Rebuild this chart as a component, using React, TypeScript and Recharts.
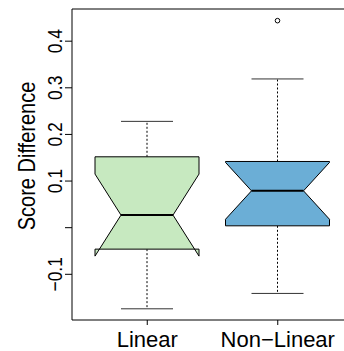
import { ComposedChart, Bar, XAxis, YAxis, ReferenceLine } from 'recharts';

const categories = ['Linear', 'Non\u2212Linear'];
const lowerWhisker = [-0.174, -0.141];
const lowerHinge = [-0.046, 0.004];
const medians = [0.027, 0.079];
const upperHinge = [0.152, 0.142];
const upperWhisker = [0.228, 0.319];
const notchLow = [-0.061, 0.018];
const notchHigh = [0.115, 0.14];
const outliers = [[], [0.444]];
const fills = ['#C7E9C0', '#6BAED6'];

const yTicks = [-0.1, 0, 0.1, 0.2, 0.3, 0.4];
const yDomain = [-0.198, 0.469];

const data = categories.map((name, i) => {
  const lo = Math.min(lowerWhisker[i], ...outliers[i]);
  const hi = Math.max(upperWhisker[i], ...outliers[i]);
  return {
    name,
    range: [lo, hi],
    lo,
    hi,
    whiskLo: lowerWhisker[i],
    q1: lowerHinge[i],
    med: medians[i],
    q3: upperHinge[i],
    whiskHi: upperWhisker[i],
    nl: notchLow[i],
    nu: notchHigh[i],
    out: outliers[i],
    fill: fills[i],
  };
});

const font = '"Liberation Sans", Arial, Helvetica, sans-serif';

// custom box: the bar spans [lo, hi] so its pixel extent gives the y scale
function NotchBox(props: any) {
  const { x, y, width, height, payload } = props;
  const top = Math.min(y, y + height);
  const bottom = Math.max(y, y + height);
  const py = (v: number) => top + ((payload.hi - v) / (payload.hi - payload.lo)) * (bottom - top);
  const cx = x + width / 2;
  const xl = x;
  const xr = x + width;
  const nh = width / 4;
  const pts = [
    [xl, py(payload.q1)],
    [xl, py(payload.nl)],
    [cx - nh, py(payload.med)],
    [xl, py(payload.nu)],
    [xl, py(payload.q3)],
    [xr, py(payload.q3)],
    [xr, py(payload.nu)],
    [cx + nh, py(payload.med)],
    [xr, py(payload.nl)],
    [xr, py(payload.q1)],
  ]
    .map((p) => p.join(','))
    .join(' ');
  return (
    <g>
      <line x1={cx} x2={cx} y1={py(payload.q3)} y2={py(payload.whiskHi)} stroke="#000" strokeDasharray="2 2" />
      <line x1={cx} x2={cx} y1={py(payload.q1)} y2={py(payload.whiskLo)} stroke="#000" strokeDasharray="2 2" />
      <line x1={cx - nh} x2={cx + nh} y1={py(payload.whiskHi)} y2={py(payload.whiskHi)} stroke="#333" />
      <line x1={cx - nh} x2={cx + nh} y1={py(payload.whiskLo)} y2={py(payload.whiskLo)} stroke="#333" />
      <polygon points={pts} fill={payload.fill} stroke="#000" strokeWidth={1} />
      <line x1={cx - nh} x2={cx + nh} y1={py(payload.med)} y2={py(payload.med)} stroke="#000" strokeWidth={2} />
      {payload.out.map((v: number, k: number) => (
        <circle key={k} cx={cx} cy={py(v)} r={2.3} fill="none" stroke="#000" strokeWidth={1} />
      ))}
    </g>
  );
}

// rotated text, a bit widened on screen like the original
function VText({ x, y, size, children }: any) {
  return (
    <text
      transform={`translate(${x} ${y}) scale(1.2 1) rotate(-90)`}
      x={0}
      y={0}
      textAnchor="middle"
      fontSize={size}
      fontFamily={font}
      fill="#000"
    >
      {children}
    </text>
  );
}

function YTick(props: any) {
  const { x, y, payload } = props;
  if (payload.value === 0) return null;
  const label = payload.value < 0 ? '\u2212' + Math.abs(payload.value).toFixed(1) : payload.value.toFixed(1);
  return (
    <VText x={x - 3} y={y} size={17.5}>
      {label}
    </VText>
  );
}

function XTick(props: any) {
  const { x, y, payload } = props;
  return (
    <text x={x} y={y + 20} textAnchor="middle" fontSize={22} fontFamily={font} fill="#000">
      {payload.value}
    </text>
  );
}

export default function App() {
  return (
    <div style={{ position: 'absolute', left: 0, top: 0, background: '#fff' }}>
      <ComposedChart width={344} height={351} data={data} margin={{ top: 9, right: 0, bottom: 0, left: 0 }} barSize={104}>
        <XAxis
          dataKey="name"
          height={31}
          padding={{ left: 10, right: 1 }}
          tickSize={5}
          tickMargin={2}
          tick={<XTick />}
          stroke="#000"
          interval={0}
        />
        <YAxis
          width={72}
          type="number"
          domain={yDomain}
          allowDataOverflow
          ticks={yTicks}
          tickSize={7}
          tickMargin={0}
          tick={<YTick />}
          stroke="#000"
          label={{
            content: () => (
              <VText x={35} y={156} size={20}>
                Score Difference
              </VText>
            ),
          }}
        />
        <ReferenceLine y={yDomain[1]} stroke="#000" />
        <Bar dataKey="range" shape={<NotchBox />} isAnimationActive={false} />
      </ComposedChart>
    </div>
  );
}
